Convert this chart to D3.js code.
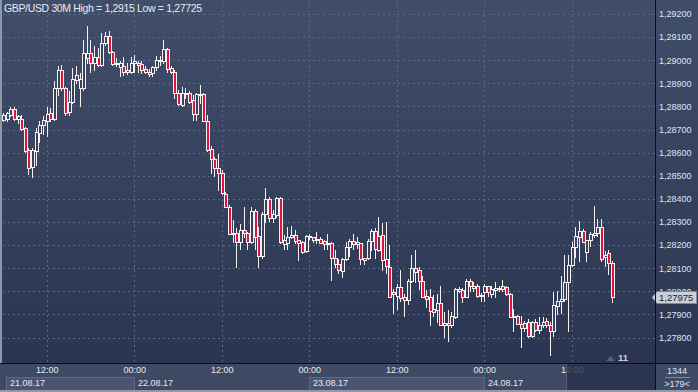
<!DOCTYPE html>
<html>
<head>
<meta charset="utf-8">
<script src="https://cdn.jsdelivr.net/npm/d3@7"></script>
<style>
  html, body { margin: 0; padding: 0; background: #2e3852; }
  svg { display: block; font-family: "Liberation Sans", Arial, sans-serif; }
</style>
</head>
<body>
<svg id="chart" width="698" height="392"></svg>
<script>
// GBP/USD 30 minute candles, 21.08.17 06:00 -> 24.08.17 17:30
const title = "GBP/USD 30M  High = 1,2915 Low = 1,27725";
const firstCandle = new Date(2017, 7, 21, 6, 0);

const openP = [
  1.28742, 1.28745, 1.28764, 1.28788, 1.28745, 1.28745, 1.28706, 1.28612, 1.28540, 1.28605,
  1.28687, 1.28720, 1.28735, 1.28771, 1.28745, 1.28879, 1.28959, 1.28879, 1.28774, 1.28821,
  1.28915, 1.28879, 1.28879, 1.29009, 1.29031, 1.28987, 1.29016, 1.28980, 1.29074, 1.29103,
  1.29034, 1.28990, 1.28970, 1.28973, 1.28956, 1.28951, 1.28987, 1.28990, 1.28985, 1.28961,
  1.28951, 1.28944, 1.28969, 1.28995, 1.28995, 1.29048, 1.28966, 1.28948, 1.28858, 1.28807,
  1.28855, 1.28858, 1.28826, 1.28768, 1.28849, 1.28855, 1.28739, 1.28615, 1.28572, 1.28533,
  1.28513, 1.28420, 1.28366, 1.28247, 1.28253, 1.28214, 1.28265, 1.28253, 1.28214, 1.28347,
  1.28240, 1.28152, 1.28334, 1.28398, 1.28315, 1.28330, 1.28402, 1.28204, 1.28207, 1.28236,
  1.28243, 1.28221, 1.28214, 1.28175, 1.28236, 1.28236, 1.28221, 1.28225, 1.28217, 1.28203,
  1.28210, 1.28142, 1.28117, 1.28088, 1.28138, 1.28193, 1.28218, 1.28203, 1.28207, 1.28135,
  1.28142, 1.28218, 1.28261, 1.28178, 1.28243, 1.28138, 1.28104, 1.27996, 1.27981, 1.28018,
  1.27974, 1.27963, 1.28043, 1.28101, 1.28090, 1.28046, 1.27981, 1.27974, 1.27924, 1.27920,
  1.27949, 1.27856, 1.27862, 1.27852, 1.27888, 1.28003, 1.28006, 1.27977, 1.28046, 1.28014,
  1.28025, 1.27986, 1.27996, 1.28025, 1.27989, 1.28006, 1.28010, 1.28021, 1.28018, 1.27989,
  1.27895, 1.27895, 1.27859, 1.27841, 1.27866, 1.27808, 1.27866, 1.27833, 1.27856, 1.27873,
  1.27852, 1.27830, 1.27938, 1.27960, 1.27967, 1.28039, 1.28115, 1.28191, 1.28234, 1.28263,
  1.28169, 1.28220, 1.28244, 1.28251, 1.28280, 1.28147, 1.28165, 1.28121
];
const highP = [
  1.28771, 1.28774, 1.28797, 1.28797, 1.28764, 1.28764, 1.28710, 1.28619, 1.28619, 1.28706,
  1.28735, 1.28757, 1.28797, 1.28793, 1.28908, 1.28973, 1.28980, 1.28886, 1.28865, 1.28966,
  1.28973, 1.28944, 1.29088, 1.29150, 1.29088, 1.29060, 1.29052, 1.29117, 1.29124, 1.29127,
  1.29038, 1.29009, 1.28995, 1.29013, 1.28987, 1.29016, 1.29023, 1.28995, 1.28995, 1.28973,
  1.28961, 1.28973, 1.29019, 1.29019, 1.29086, 1.29052, 1.28973, 1.28959, 1.28872, 1.28886,
  1.28879, 1.28865, 1.28850, 1.28858, 1.28894, 1.28860, 1.28764, 1.28630, 1.28583, 1.28593,
  1.28524, 1.28431, 1.28373, 1.28308, 1.28272, 1.28290, 1.28366, 1.28257, 1.28366, 1.28358,
  1.28279, 1.28344, 1.28445, 1.28406, 1.28351, 1.28406, 1.28406, 1.28243, 1.28279, 1.28282,
  1.28265, 1.28224, 1.28218, 1.28243, 1.28247, 1.28236, 1.28257, 1.28236, 1.28221, 1.28247,
  1.28214, 1.28178, 1.28138, 1.28142, 1.28214, 1.28225, 1.28250, 1.28236, 1.28210, 1.28142,
  1.28225, 1.28268, 1.28272, 1.28322, 1.28297, 1.28301, 1.28201, 1.28010, 1.28032, 1.28093,
  1.27989, 1.28054, 1.28155, 1.28179, 1.28107, 1.28068, 1.28006, 1.28010, 1.27986, 1.27989,
  1.28021, 1.27909, 1.27917, 1.27909, 1.28014, 1.28018, 1.28014, 1.28054, 1.28054, 1.28039,
  1.28032, 1.27992, 1.28032, 1.28025, 1.28021, 1.28039, 1.28025, 1.28049, 1.28025, 1.27992,
  1.27924, 1.27899, 1.27891, 1.27873, 1.27880, 1.27873, 1.27880, 1.27888, 1.27888, 1.27884,
  1.27866, 1.27996, 1.28003, 1.28068, 1.28155, 1.28155, 1.28212, 1.28277, 1.28306, 1.28270,
  1.28222, 1.28256, 1.28367, 1.28313, 1.28313, 1.28176, 1.28180, 1.28130
];
const lowP = [
  1.28735, 1.28735, 1.28757, 1.28742, 1.28728, 1.28699, 1.28601, 1.28508, 1.28494, 1.28547,
  1.28648, 1.28681, 1.28670, 1.28735, 1.28742, 1.28850, 1.28872, 1.28764, 1.28764, 1.28814,
  1.28901, 1.28800, 1.28872, 1.28987, 1.28951, 1.28959, 1.28973, 1.28973, 1.29067, 1.29031,
  1.28980, 1.28973, 1.28930, 1.28937, 1.28941, 1.28944, 1.28951, 1.28951, 1.28944, 1.28944,
  1.28933, 1.28933, 1.28959, 1.28980, 1.28987, 1.28951, 1.28944, 1.28836, 1.28807, 1.28803,
  1.28836, 1.28814, 1.28742, 1.28742, 1.28814, 1.28735, 1.28605, 1.28511, 1.28497, 1.28439,
  1.28423, 1.28366, 1.28247, 1.28214, 1.28106, 1.28181, 1.28236, 1.28185, 1.28207, 1.28185,
  1.28103, 1.28142, 1.28301, 1.28305, 1.28301, 1.28322, 1.28210, 1.28185, 1.28181, 1.28229,
  1.28207, 1.28135, 1.28164, 1.28171, 1.28225, 1.28214, 1.28207, 1.28207, 1.28185, 1.28185,
  1.28048, 1.28106, 1.28077, 1.28063, 1.28135, 1.28153, 1.28185, 1.28189, 1.28120, 1.28120,
  1.28138, 1.28178, 1.28142, 1.28175, 1.28092, 1.28077, 1.27974, 1.27905, 1.27924, 1.27960,
  1.27891, 1.27945, 1.28039, 1.28039, 1.28010, 1.27974, 1.27931, 1.27852, 1.27891, 1.27866,
  1.27852, 1.27804, 1.27787, 1.27844, 1.27885, 1.27999, 1.27953, 1.27974, 1.28003, 1.28003,
  1.27977, 1.27957, 1.27960, 1.27981, 1.27974, 1.27977, 1.28003, 1.28003, 1.27986, 1.27888,
  1.27830, 1.27859, 1.27761, 1.27830, 1.27801, 1.27801, 1.27827, 1.27818, 1.27844, 1.27844,
  1.27725, 1.27808, 1.27902, 1.27905, 1.27957, 1.27830, 1.28111, 1.28147, 1.28133, 1.28212,
  1.28133, 1.28198, 1.28234, 1.28241, 1.28133, 1.28111, 1.28075, 1.27953
];
const closeP = [
  1.28764, 1.28771, 1.28788, 1.28745, 1.28759, 1.28702, 1.28609, 1.28533, 1.28612, 1.28689,
  1.28720, 1.28742, 1.28767, 1.28745, 1.28879, 1.28959, 1.28879, 1.28771, 1.28821, 1.28918,
  1.28937, 1.28918, 1.29031, 1.29031, 1.28987, 1.29013, 1.28980, 1.29074, 1.29103, 1.29034,
  1.28985, 1.28982, 1.28987, 1.28947, 1.28947, 1.28990, 1.28995, 1.28980, 1.28959, 1.28947,
  1.28941, 1.28969, 1.28999, 1.29002, 1.29048, 1.28961, 1.28948, 1.28858, 1.28811, 1.28858,
  1.28860, 1.28821, 1.28768, 1.28855, 1.28855, 1.28739, 1.28612, 1.28572, 1.28533, 1.28514,
  1.28426, 1.28366, 1.28247, 1.28253, 1.28214, 1.28265, 1.28253, 1.28214, 1.28347, 1.28233,
  1.28152, 1.28334, 1.28398, 1.28315, 1.28334, 1.28402, 1.28214, 1.28221, 1.28236, 1.28243,
  1.28218, 1.28210, 1.28171, 1.28239, 1.28240, 1.28221, 1.28225, 1.28210, 1.28203, 1.28210,
  1.28142, 1.28120, 1.28092, 1.28138, 1.28193, 1.28218, 1.28203, 1.28214, 1.28138, 1.28142,
  1.28218, 1.28261, 1.28181, 1.28239, 1.28135, 1.28109, 1.27977, 1.27989, 1.28018, 1.27971,
  1.27963, 1.28043, 1.28101, 1.28082, 1.28046, 1.27977, 1.27967, 1.27914, 1.27909, 1.27949,
  1.27856, 1.27862, 1.27852, 1.27891, 1.28010, 1.28010, 1.27977, 1.28046, 1.28025, 1.28025,
  1.27981, 1.27981, 1.28025, 1.27996, 1.28010, 1.28014, 1.28014, 1.28010, 1.27989, 1.27888,
  1.27888, 1.27859, 1.27841, 1.27862, 1.27808, 1.27866, 1.27833, 1.27852, 1.27866, 1.27852,
  1.27830, 1.27942, 1.27960, 1.27967, 1.28039, 1.28115, 1.28191, 1.28241, 1.28263, 1.28212,
  1.28220, 1.28249, 1.28251, 1.28280, 1.28140, 1.28159, 1.28121, 1.27975
];

const priceTicks = [1.278, 1.279, 1.280, 1.281, 1.282, 1.283, 1.284, 1.285,
                    1.286, 1.287, 1.288, 1.289, 1.290, 1.291, 1.292];
const lastPrice = 1.27975;
const barsShown = "1344";
const scrollInfo = ">179<";
const volumeMark = "11";

const W = 698, H = 392;
const plotRight = 655, plotBottom = 363;

const candles = openP.map((o, i) => ({
  t: d3.timeMinute.offset(firstCandle, 30 * i),
  o: o, h: highP[i], l: lowP[i], c: closeP[i]
}));

const svg = d3.select("#chart");

// background gradient
const defs = svg.append("defs");
const grad = defs.append("linearGradient").attr("id", "bg")
  .attr("x1", 0).attr("y1", 0).attr("x2", 0).attr("y2", 1);
grad.append("stop").attr("offset", "0%").attr("stop-color", "#414e69");
grad.append("stop").attr("offset", "100%").attr("stop-color", "#2b3551");

svg.append("rect").attr("width", W).attr("height", plotBottom).attr("fill", "url(#bg)");

const x = d3.scaleTime()
  .domain([new Date(2017, 7, 21, 12), new Date(2017, 7, 24, 12)])
  .range([46.7, 571.7]);
const y = d3.scaleLinear().domain([1.278, 1.292]).range([337.5, 14]);

const fmt = d3.formatLocale({ decimal: ",", thousands: ".", grouping: [3], currency: ["", ""] }).format(".5f");

// grid
const timeTicks = x.ticks(d3.timeHour.every(12));
const grid = svg.append("g").attr("stroke", "#5b6884").attr("stroke-dasharray", "2,3").attr("stroke-width", 1);
grid.selectAll(".hg").data(priceTicks).enter().append("line")
  .attr("x1", 3).attr("x2", plotRight)
  .attr("y1", d => Math.round(y(d)) + 0.5).attr("y2", d => Math.round(y(d)) + 0.5);
grid.selectAll(".vg").data(timeTicks).enter().append("line")
  .attr("y1", 0).attr("y2", plotBottom)
  .attr("x1", d => Math.round(x(d)) + 0.5).attr("x2", d => Math.round(x(d)) + 0.5);

// candles: white outline body, red fill when falling, hollow when rising
const cg = svg.append("g");
candles.forEach(d => {
  const cx = Math.round(x(d.t));
  const up = d.c >= d.o;
  cg.append("line")
    .attr("x1", cx + 0.5).attr("x2", cx + 0.5)
    .attr("y1", Math.round(y(d.h))).attr("y2", Math.round(y(d.l)) + 1)
    .attr("stroke", "#f6f1ee").attr("stroke-width", 1);
  const top = Math.round(y(Math.max(d.o, d.c)));
  const bot = Math.round(y(Math.min(d.o, d.c)));
  const hgt = Math.max(1, bot - top + 1);
  cg.append("rect")
    .attr("x", cx - 1).attr("y", top).attr("width", 4).attr("height", hgt)
    .attr("fill", "#f6f1ee");
  if (hgt > 2) {
    cg.append("rect")
      .attr("x", cx).attr("y", top + 1).attr("width", 2).attr("height", hgt - 2)
      .attr("fill", up ? "#36425e" : "#e3123c");
  }
});

// frame lines
svg.append("rect").attr("x", 0).attr("y", 0).attr("width", 2).attr("height", H).attr("fill", "#8e97a8");
svg.append("rect").attr("x", 0).attr("y", plotBottom).attr("width", W).attr("height", H - plotBottom).attr("fill", "#3e4963");

// right price axis
const yAxis = d3.axisRight(y).tickValues(priceTicks).tickSize(0).tickPadding(4).tickFormat(fmt);
const ya = svg.append("g").attr("transform", `translate(${plotRight},0)`).call(yAxis);
ya.select(".domain").remove();
ya.selectAll("text").attr("fill", "#dfe6f1").style("font-size", "9px")
  .style("font-family", "'Liberation Sans', Arial, sans-serif");

// current price marker (covers the lower half of the 1,28000 label as in the original)
const py = Math.round(y(lastPrice));
svg.append("path")
  .attr("d", `M652,${py + 0.5} L657,${py - 5.5} L696.5,${py - 5.5} L696.5,${py + 6.5} L657,${py + 6.5} Z`)
  .attr("fill", "#c9ced7").attr("stroke", "#7f899c");
svg.append("text").attr("x", 659).attr("y", py + 1).attr("dy", "0.35em")
  .attr("fill", "#1b2234").style("font-size", "9.5px").text(fmt(lastPrice));

// date boxes in the bottom panel
const days = d3.timeDay.range(new Date(2017, 7, 21), new Date(2017, 7, 25));
const dateFmt = d3.timeFormat("%d.%m.%y");
const dg = svg.append("g");
days.forEach((d, i) => {
  const x0 = Math.max(6, Math.round(x(d)));
  const x1 = Math.min(plotRight, Math.round(x(d3.timeDay.offset(d, 1))));
  if (i % 2 === 0) {
    dg.append("rect").attr("x", x0 + 0.5).attr("y", 377.5).attr("width", x1 - x0).attr("height", 14)
      .attr("fill", "#4a5671").attr("stroke", "#5f6b86");
  }
  dg.append("text").attr("x", x0 + 4).attr("y", 383).attr("dy", "0.35em")
    .attr("fill", "#e4e9f1").style("font-size", "9px").text(dateFmt(d));
});

// time axis
const xAxis = d3.axisBottom(x).tickValues(timeTicks).tickSize(0).tickPadding(0).tickFormat(d3.timeFormat("%H:%M"));
const xa = svg.append("g").attr("transform", `translate(0,${plotBottom + 4})`).call(xAxis);
xa.select(".domain").remove();
xa.selectAll("text").attr("fill", "#e4e9f1").style("font-size", "9px")
  .style("font-family", "'Liberation Sans', Arial, sans-serif");

// scroll thumb
svg.append("rect").attr("x", 566).attr("y", plotBottom + 1).attr("width", plotRight - 566).attr("height", H - plotBottom - 3)
  .attr("fill", "#28314a").attr("opacity", 0.82);
svg.append("line").attr("x1", 566.5).attr("x2", 566.5).attr("y1", plotBottom + 1).attr("y2", H - 2).attr("stroke", "#55607a");

// bottom-right info
svg.append("text").attr("x", 677).attr("y", 371).attr("dy", "0.35em").attr("text-anchor", "middle")
  .attr("fill", "#dfe6f1").style("font-size", "9px").text(barsShown);
svg.append("line").attr("x1", 665).attr("x2", 690).attr("y1", 377.5).attr("y2", 377.5).attr("stroke", "#7e889c");
svg.append("text").attr("x", 677).attr("y", 384).attr("dy", "0.35em").attr("text-anchor", "middle")
  .attr("fill", "#dfe6f1").style("font-size", "9px").text(scrollInfo);

// volume marker
svg.append("path").attr("d", "M606,361 L610.5,356 L615,361 Z").attr("fill", "#56627c");
svg.append("text").attr("x", 618).attr("y", 358).attr("dy", "0.35em")
  .attr("fill", "#c3d0e4").style("font-size", "9.5px").style("font-weight", "bold").text(volumeMark);

// separator lines
svg.append("line").attr("x1", plotRight + 0.5).attr("x2", plotRight + 0.5).attr("y1", 0).attr("y2", H)
  .attr("stroke", "#0b0e16");
svg.append("line").attr("x1", 0).attr("x2", W).attr("y1", plotBottom + 0.5).attr("y2", plotBottom + 0.5)
  .attr("stroke", "#0b0e16");
svg.append("rect").attr("x", 0).attr("y", H - 2).attr("width", W).attr("height", 2).attr("fill", "#9199a9");

// title
svg.append("text").attr("x", 4).attr("y", 8).attr("dy", "0.35em")
  .attr("fill", "#e6ebf3").style("font-size", "10.5px").style("letter-spacing", "-0.35px")
  .text(title);
</script>
</body>
</html>
